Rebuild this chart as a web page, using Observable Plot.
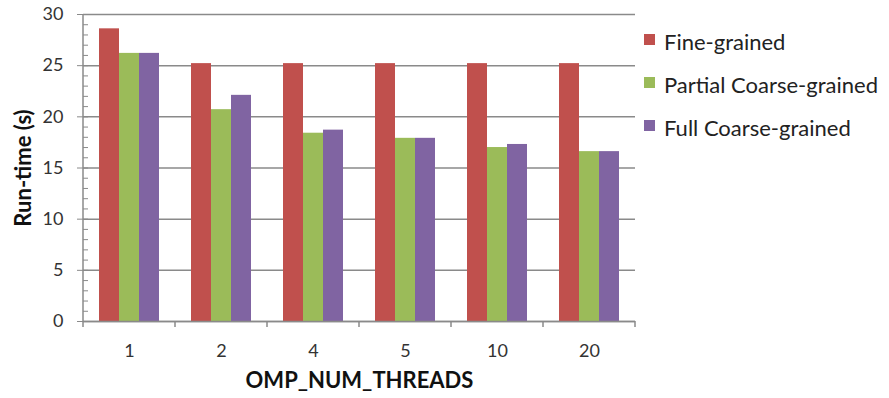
<!DOCTYPE html>
<html><head><meta charset="utf-8">
<script src="https://cdn.jsdelivr.net/npm/d3@7"></script>
<script src="https://cdn.jsdelivr.net/npm/@observablehq/plot@0.6"></script>
<style>
body{margin:0;background:#fff;font-family:Lato,sans-serif;}
#wrap{position:relative;width:889px;height:398px;overflow:hidden;}
#legend{position:absolute;left:644px;top:20px;font-family:Lato,sans-serif;font-size:22px;color:#222;}
#legend .item{display:flex;align-items:center;height:43px;white-space:nowrap;}
#legend .sw{width:11px;height:11px;margin-right:9px;margin-top:-4px;}
g[aria-label="y-axis label"] text, g[aria-label="fx-axis label"] text{font-weight:bold;font-size:22px;fill:#111;}
</style></head><body><div id="wrap"></div>
<script>
const threads = ["1","2","4","5","10","20"];
const series = ["Fine-grained","Partial Coarse-grained","Full Coarse-grained"];
const fine = [28.6,25.2,25.2,25.2,25.2,25.2];
const partial = [26.2,20.7,18.4,17.9,17.0,16.6];
const full = [26.2,22.1,18.7,17.9,17.3,16.6];
const colors = ["#C0504D","#9BBB59","#8064A2"];
const yTicks = [0,5,10,15,20,25,30];
const yMinor = d3.range(0,31,1);

const values = [fine, partial, full];
const data = threads.flatMap((t,i) => series.map((s,j) => ({t, s, v: values[j][i]})));

const grey = "#8a8a8a";
const plot = Plot.plot({
  width: 889, height: 398,
  marginLeft: 82, marginRight: 253, marginTop: 14, marginBottom: 77,
  style: {fontFamily: "Lato, sans-serif", fontSize: "18px", color: "#333", background: "#fff"},
  fx: {domain: threads, padding: 0},
  x: {domain: series, paddingInner: 0, paddingOuter: 0.75, axis: null},
  y: {domain: [0,30]},
  color: {domain: series, range: colors},
  marks: [
    Plot.gridY(yTicks, {stroke: grey, strokeOpacity: 1, strokeWidth: 1.5}),
    Plot.barY(data, {fx: "t", x: "s", y: "v", fill: "s"}),
    Plot.ruleY([0], {stroke: grey, strokeWidth: 1.5}),
    Plot.axisY(yMinor, {tickSize: -5, tickFormat: () => "", label: null, stroke: grey}),
    Plot.axisY(yTicks, {tickSize: 6, tickPadding: 14, stroke: grey, fill: "#333", label: "Run-time (s)", labelAnchor: "center", labelArrow: "none", labelOffset: 68}),
    Plot.axisFx({anchor: "bottom", tickSize: 0, tickPadding: 23, fill: "#333", label: "OMP_NUM_THREADS", labelAnchor: "center", labelArrow: "none", labelOffset: 66})
  ]
});

// axis line and category boundary ticks derived from the plot's scales
const svg = d3.select(plot);
const fx = plot.scale("fx"), y = plot.scale("y");
const y0 = y.apply(0), y30 = y.apply(30);
const x0 = fx.apply(threads[0]);
const bw = fx.bandwidth;
const g = svg.append("g").attr("stroke", grey).attr("stroke-width", 1.5);
g.append("line").attr("x1", x0).attr("x2", x0).attr("y1", y30).attr("y2", y0);
const bounds = threads.map(t => fx.apply(t)).concat([fx.apply(threads[threads.length-1]) + bw]);
bounds.forEach(b => g.append("line").attr("x1", b).attr("x2", b).attr("y1", y0).attr("y2", y0 + 6));

const wrap = document.getElementById("wrap");
wrap.appendChild(plot);
const legend = document.createElement("div");
legend.id = "legend";
series.forEach((s,i) => {
  const it = document.createElement("div"); it.className = "item";
  const sw = document.createElement("span"); sw.className = "sw"; sw.style.background = colors[i];
  const tx = document.createElement("span"); tx.textContent = s;
  it.appendChild(sw); it.appendChild(tx); legend.appendChild(it);
});
wrap.appendChild(legend);
</script></body></html>
